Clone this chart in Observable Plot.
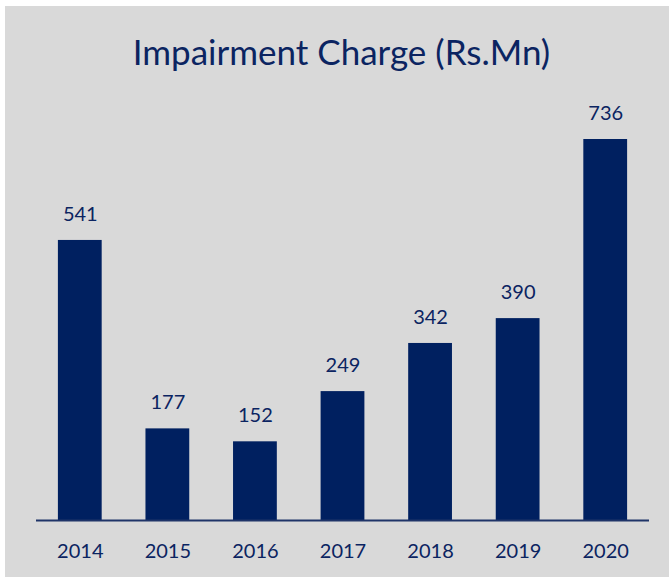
<!DOCTYPE html>
<html>
<head>
<meta charset="utf-8">
<script src="https://cdn.jsdelivr.net/npm/d3@7"></script>
<script src="https://cdn.jsdelivr.net/npm/@observablehq/plot@0.6"></script>
<style>
  html, body { margin: 0; padding: 0; background: #ffffff; }
  #wrap { position: relative; width: 669px; height: 580px; overflow: hidden; }
  #bg { position: absolute; left: 5px; top: 6px; right: 0; bottom: 3px; background: #d9d9d9; }
  #title { position: absolute; left: 14px; right: 0; top: 30px; text-align: center;
           font-family: Lato, "Open Sans", sans-serif; font-size: 35px; color: #0b2461; }
  #chart { position: absolute; left: 0; top: 0; }
</style>
</head>
<body>
<div id="wrap">
  <div id="bg"></div>
  <div id="title">Impairment Charge (Rs.Mn)</div>
  <div id="chart"></div>
</div>
<script>
const years = ["2014", "2015", "2016", "2017", "2018", "2019", "2020"];
const values = [541, 177, 152, 249, 342, 390, 736];
const data = years.map((y, i) => ({year: y, value: values[i]}));

const navy = "#002060";
const textColor = "#0b2461";

const chart = Plot.plot({
  width: 669,
  height: 580,
  marginLeft: 36,
  marginRight: 20,
  marginTop: 139,
  marginBottom: 60,
  style: {background: "transparent", fontFamily: "Lato, 'Open Sans', sans-serif", color: textColor, overflow: "visible"},
  x: {domain: years, paddingInner: 0.5, paddingOuter: 0.25, round: false, label: null},
  y: {domain: [0, 736], axis: null},
  marks: [
    Plot.barY(data, {x: "year", y: "value", fill: navy}),
    Plot.ruleY([0], {stroke: "#1f3468", strokeWidth: 2}),
    Plot.text(data, {x: "year", y: "value", text: d => String(d.value), dy: -26, fontSize: 20, fill: textColor}),
    Plot.axisX({tickSize: 0, tickPadding: 23, fontSize: 20, fill: textColor, label: null})
  ]
});
document.getElementById("chart").appendChild(chart);
</script>
</body>
</html>
